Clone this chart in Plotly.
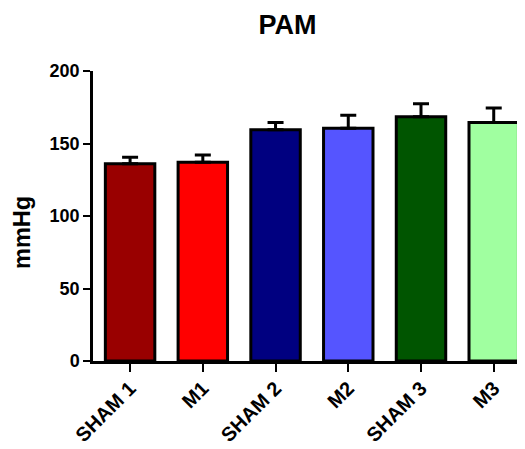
import plotly.graph_objects as go

categories = ["SHAM 1", "M1", "SHAM 2", "M2", "SHAM 3", "M3"]
means = [136, 137, 159.5, 160.5, 168.5, 164.5]
sem = [4.5, 5, 5, 9, 9, 10]
colors = ["#990000", "#FF0000", "#000080", "#5555FF", "#005500", "#A0FFA0"]
y_ticks = [0, 50, 100, 150, 200]

FONT = "Liberation Sans, Arial, sans-serif"

# page body has an 8px default margin, so the figure is sized to fit the window
W, H = 517, 441
ML, MT, MB = 85, 63, 88
PW, PH = W - ML, H - MT - MB

fig = go.Figure()
fig.add_trace(go.Bar(
    x=list(range(len(categories))),
    y=means,
    width=0.68,
    marker=dict(color=colors, line=dict(color="black", width=3)),
    error_y=dict(type="data", symmetric=False, array=sem,
                 arrayminus=[0] * len(sem),
                 color="black", thickness=3, width=8),
))

fig.add_annotation(
    text="<b>mmHg</b>", textangle=-90,
    xref="paper", yref="paper",
    x=(14 - ML) / PW, y=(MT + PH - 225) / PH,
    xanchor="center", yanchor="middle", showarrow=False,
    font=dict(size=23.5, family=FONT, color="black"),
)

fig.update_layout(
    width=W, height=H,
    margin=dict(l=ML, r=0, t=MT, b=MB, autoexpand=False),
    paper_bgcolor="white", plot_bgcolor="white",
    showlegend=False,
    font=dict(family=FONT, color="black"),
    title=dict(text="<b>PAM</b>", x=279.5 / W, xanchor="center",
               y=1 - 17 / H, yanchor="middle",
               font=dict(size=27, family=FONT, color="black")),
    xaxis=dict(
        range=[-0.51, 5.43],
        tickmode="array", tickvals=list(range(len(categories))),
        ticktext=[f"<b>{c}</b>" for c in categories],
        tickangle=-45,
        ticklabelstandoff=-3,
        showline=True, linecolor="black", linewidth=2.5,
        ticks="outside", ticklen=8, tickwidth=2, tickcolor="black",
        showgrid=False, zeroline=False,
        tickfont=dict(size=20, family=FONT, color="black"),
    ),
    yaxis=dict(
        range=[0, 200],
        tickmode="array", tickvals=y_ticks,
        ticktext=[f"<b>{v}</b>" for v in y_ticks],
        showline=True, linecolor="black", linewidth=2.5,
        ticks="outside", ticklen=7, tickwidth=2, tickcolor="black",
        showgrid=False, zeroline=False,
        tickfont=dict(size=18, family=FONT, color="black"),
    ),
)

fig.write_html("out.html")
